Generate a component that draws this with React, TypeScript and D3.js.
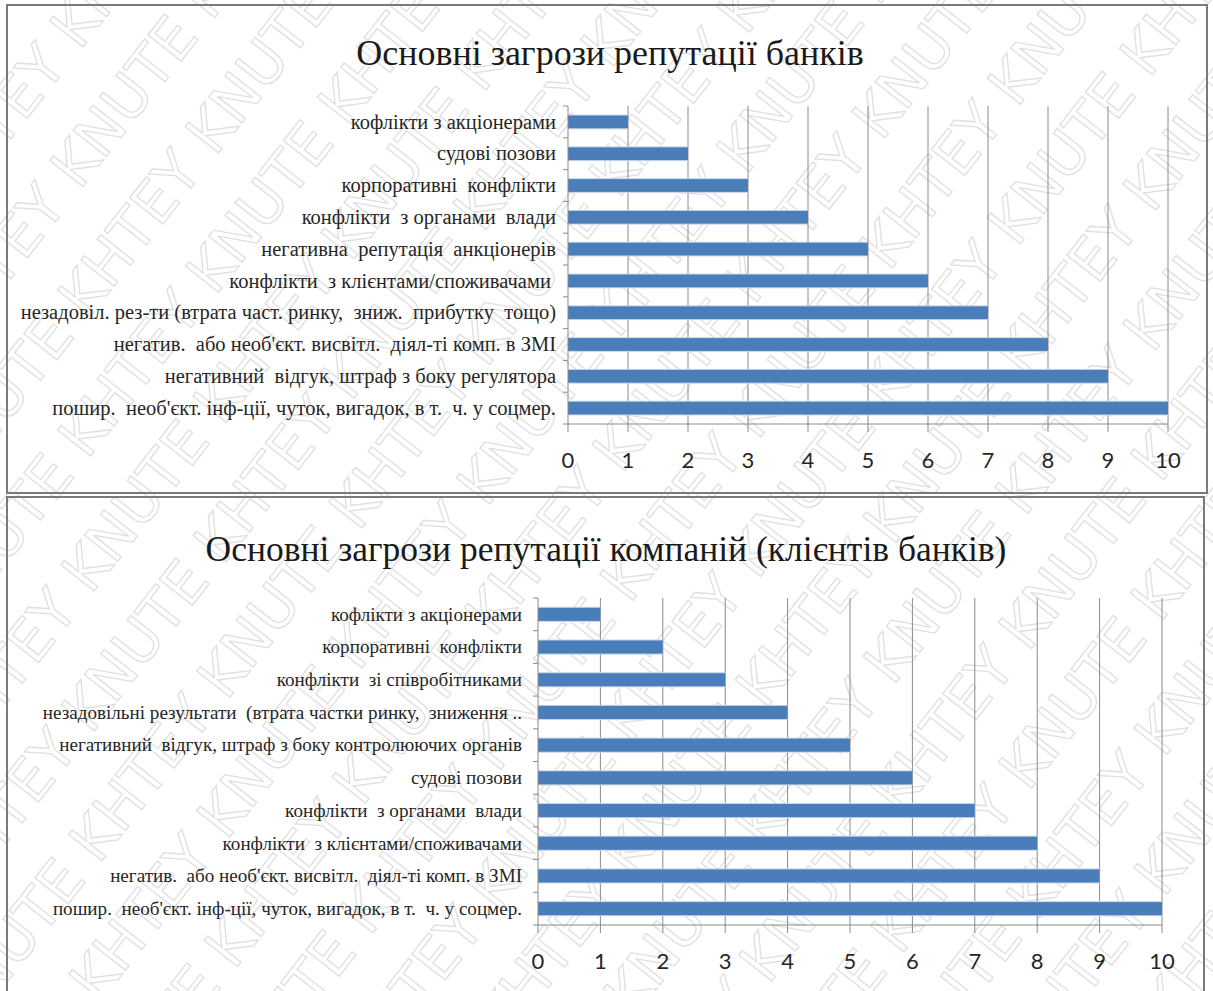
import React from 'react';
import * as d3 from 'd3';

// top chart: banks
const bankTitle = 'Основні загрози репутації банків';
const bankCategories = [
  'кофлікти з акціонерами',
  'судові позови',
  'корпоративні  конфлікти',
  'конфлікти  з органами  влади',
  'негативна  репутація  анкціонерів',
  'конфлікти  з клієнтами/споживачами ',
  'незадовіл. рез-ти (втрата част. ринку,  зниж.  прибутку  тощо)',
  'негатив.  або необ\'єкт. висвітл.  діял-ті комп. в ЗМІ',
  'негативний  відгук, штраф з боку регулятора',
  'пошир.  необ\'єкт. інф-ції, чуток, вигадок, в т.  ч. у соцмер.',
];
const bankValues = [1, 2, 3, 4, 5, 6, 7, 8, 9, 10];

// bottom chart: companies
const companyTitle = 'Основні загрози репутації компаній (клієнтів банків)';
const companyCategories = [
  'кофлікти з акціонерами',
  'корпоративні  конфлікти',
  'конфлікти  зі співробітниками',
  'незадовільні результати  (втрата частки ринку,  зниження ..',
  'негативний  відгук, штраф з боку контролюючих органів',
  'судові позови',
  'конфлікти  з органами  влади',
  'конфлікти  з клієнтами/споживачами',
  'негатив.  або необ\'єкт. висвітл.  діял-ті комп. в ЗМІ',
  'пошир.  необ\'єкт. інф-ції, чуток, вигадок, в т.  ч. у соцмер.',
];
const companyValues = [1, 2, 3, 4, 5, 6, 7, 8, 9, 10];

const xTicks = [0, 1, 2, 3, 4, 5, 6, 7, 8, 9, 10];

const W = 1213;
const H = 991;
const SERIF = "'Times New Roman', 'Liberation Serif', 'DejaVu Serif', serif";
const SANS = "Lato, 'Open Sans', sans-serif";

interface PanelProps {
  title: string;
  categories: string[];
  values: number[];
  box: { x: number; y: number; w: number; h: number };
  titleX: number;
  titleY: number;
  titleSize: number;
  labelSize: number;
  plot: { left: number; right: number; top: number; bottom: number };
  labelGap: number;
}

const BarPanel: React.FC<PanelProps> = ({ title, categories, values, box, titleX, titleY, titleSize, labelSize, plot, labelGap }) => {
  const x = d3.scaleLinear().domain([0, 10]).range([plot.left, plot.right]);
  const y = d3.scaleBand<string>().domain(categories).range([plot.top, plot.bottom]).paddingInner(0.6).paddingOuter(0.3);
  const step = y.step();
  const bw = y.bandwidth();

  return (
    <g>
      <rect x={box.x} y={box.y} width={box.w} height={box.h} fill="none" stroke="#7a7a7a" strokeWidth={2} />
      <text x={titleX} y={titleY} textAnchor="middle" style={{ fontFamily: SERIF, fontSize: titleSize }} fill="#1a1a1a">{title}</text>

      {/* vertical gridlines */}
      {xTicks.filter(t => t > 0).map(t => (
        <line key={'g' + t} x1={x(t)} x2={x(t)} y1={plot.top} y2={plot.bottom} stroke="#8a8a8a" strokeWidth={1} />
      ))}

      {/* bars */}
      {categories.map((c, i) => (
        <g key={'b' + i}>
          <rect x={x(0)} y={y(c)! - 1} width={x(values[i]) - x(0)} height={bw + 2} fill="#c5d5ea" />
          <rect x={x(0)} y={y(c)!} width={x(values[i]) - x(0)} height={bw} fill="#4a7ebb" />
        </g>
      ))}

      {/* category axis */}
      <line x1={plot.left} x2={plot.left} y1={plot.top} y2={plot.bottom} stroke="#8a8a8a" />
      {d3.range(categories.length + 1).map(i => (
        <line key={'ct' + i} x1={plot.left - 5} x2={plot.left} y1={plot.top + i * step} y2={plot.top + i * step} stroke="#8a8a8a" />
      ))}
      {categories.map((c, i) => (
        <text key={'l' + i} x={plot.left - labelGap} y={y(c)! + bw / 2} dy="0.33em" textAnchor="end"
          style={{ fontFamily: SERIF, fontSize: labelSize, whiteSpace: 'pre' }} fill="#262626">{c}</text>
      ))}

      {/* value axis */}
      <line x1={plot.left} x2={plot.right} y1={plot.bottom} y2={plot.bottom} stroke="#8a8a8a" />
      {xTicks.map(t => (
        <line key={'xt' + t} x1={x(t)} x2={x(t)} y1={plot.bottom} y2={plot.bottom + 8} stroke="#8a8a8a" />
      ))}
      {xTicks.map(t => (
        <text key={'xl' + t} x={x(t)} y={plot.bottom + 44} textAnchor="middle" style={{ fontFamily: SANS, fontSize: 22 }} fill="#262626">{t}</text>
      ))}
    </g>
  );
};

const Watermark: React.FC = () => {
  const rows = d3.range(-8, 14);
  const words = d3.range(0, 12).map(i => (i % 2 === 0 ? 'KHTEY' : 'KNUTE')).join(' ');
  return (
    <g transform="rotate(-52, 606, 495)">
      {rows.map(r => (
        <text key={r} x={-420 + (r % 2) * 110} y={495 + r * 86} style={{ fontFamily: "'DejaVu Sans', sans-serif", fontSize: 58 }}
          fill="none" stroke="#e0e0e0" strokeWidth={1.3}>{words}</text>
      ))}
    </g>
  );
};

export default function App() {
  return (
    <div style={{ position: 'absolute', left: 0, top: 0 }}>
      <svg width={W} height={H} viewBox={`0 0 ${W} ${H}`} style={{ display: 'block', background: '#fff' }}>
        <rect width={W} height={H} fill="#fff" />
        <Watermark />
        <BarPanel
          title={bankTitle}
          categories={bankCategories}
          values={bankValues}
          box={{ x: 7, y: 5, w: 1200, h: 488 }}
          titleX={610}
          titleY={65}
          titleSize={36}
          labelSize={20.5}
          plot={{ left: 568, right: 1168, top: 106, bottom: 424 }}
          labelGap={12}
        />
        <BarPanel
          title={companyTitle}
          categories={companyCategories}
          values={companyValues}
          box={{ x: 7, y: 497, w: 1197, h: 500 }}
          titleX={606}
          titleY={561}
          titleSize={35.5}
          labelSize={19.1}
          plot={{ left: 538, right: 1162, top: 598, bottom: 925 }}
          labelGap={16}
        />
      </svg>
    </div>
  );
}
